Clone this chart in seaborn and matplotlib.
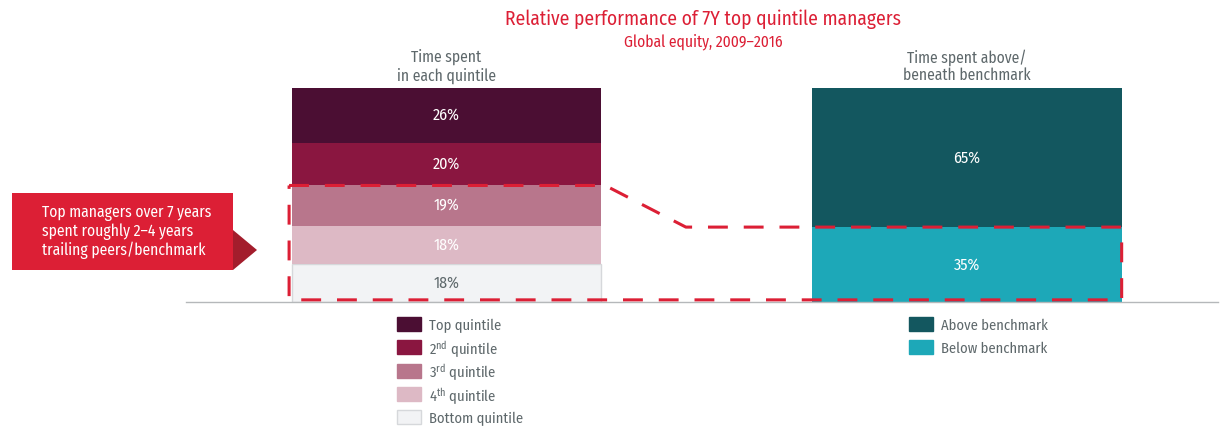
import matplotlib
matplotlib.use("Agg")
import matplotlib.pyplot as plt
import seaborn as sns
import numpy as np
from matplotlib.patches import Polygon, Rectangle
from matplotlib import font_manager

# ---------------- data ----------------
groups = ["quintile", "benchmark"]
column_headers = ["Time spent\nin each quintile", "Time spent above/\nbeneath benchmark"]
quintile_labels = ["Top quintile", r"2$^{\mathrm{nd}}$ quintile", r"3$^{\mathrm{rd}}$ quintile",
                   r"4$^{\mathrm{th}}$ quintile", "Bottom quintile"]
quintile_values = [26, 20, 19, 18, 18]
benchmark_labels = ["Above benchmark", "Below benchmark"]
benchmark_values = [65, 35]
title = "Relative performance of 7Y top quintile managers"
subtitle = "Global equity, 2009\u20132016"
callout = "Top managers over 7 years\nspent roughly 2\u20134 years\ntrailing peers/benchmark"

# ---------------- style ----------------
quintile_colors = ["#4B0E33", "#8A1640", "#B8768C", "#DDB9C5", "#F2F3F5"]
benchmark_colors = ["#13575F", "#1DA8B8"]
RED = "#DC1F35"
DARKRED = "#A31D2C"
GRAY = "#5E686B"

sns.set_theme(style="white")
names = {f.name for f in font_manager.fontManager.ttflist}
main_font = "DejaVu Sans"
for cand in ["Fira Sans Condensed", "Roboto Condensed", "PT Sans Narrow", "Archivo Narrow",
             "Asap Condensed", "Liberation Sans Narrow", "Open Sans Condensed"]:
    if cand in names:
        main_font = cand
        break
plt.rcParams["font.family"] = [main_font, "DejaVu Sans"]
plt.rcParams["mathtext.fontset"] = "custom"
plt.rcParams["mathtext.rm"] = main_font
plt.rcParams["mathtext.it"] = main_font
plt.rcParams["mathtext.bf"] = main_font
FS = 10.5

fig = plt.figure(figsize=(12.2, 4.26), dpi=100)
fig.patch.set_facecolor("white")
W_PX, H_PX = 1220, 426
ax = fig.add_axes([186 / W_PX, 124 / H_PX, 1032 / W_PX, 214 / H_PX])
BAR_W = 0.594


def fx(x):
    return x / W_PX


def fy(y):
    return 1 - y / H_PX


def stack(group, values, colors, scale):
    bottom = 0.0
    idx = groups.index(group)
    for v, c in reversed(list(zip(values, colors))):
        h = v * scale
        light = c == "#F2F3F5"
        sns.barplot(x=[group], y=[h], order=groups, bottom=bottom, color=c,
                    width=BAR_W, saturation=1, errorbar=None,
                    edgecolor="#D6D8DB" if light else c,
                    linewidth=1.0 if light else 0, ax=ax)
        ax.text(idx, bottom + h / 2, f"{v}%", ha="center", va="center",
                fontsize=11.5, color=GRAY if light else "white")
        bottom += h


q_scale = 100.0 / sum(quintile_values)
stack("quintile", quintile_values, quintile_colors, q_scale)
stack("benchmark", benchmark_values, benchmark_colors, 1.0)

ax.set_xlim(-0.5, 1.482)
ax.set_ylim(0, 100)
ax.set_xticks([])
ax.set_yticks([])
ax.set_xlabel("")
ax.set_ylabel("")
for s in ["top", "left", "right"]:
    ax.spines[s].set_visible(False)
ax.spines["bottom"].set_color("#B5B8BA")
ax.spines["bottom"].set_linewidth(1.0)

# headers
for i, h in enumerate(column_headers):
    ax.text(i, 102.0, h, ha="center", va="bottom", fontsize=11.2, color=GRAY,
            linespacing=1.15)

# dashed highlight
y_q = sum(quintile_values[2:]) * q_scale
y_b = benchmark_values[1]
xl = -BAR_W / 2 - 0.005
xs = [xl, BAR_W / 2 + 0.008, 0.46, 1 + BAR_W / 2, 1 + BAR_W / 2, xl, xl]
ys = [y_q, y_q, y_b, y_b, 1.0, 1.0, y_q]
ax.plot(xs, ys, color=RED, lw=2.2, ls=(0, (6.5, 5.2)), clip_on=False,
        dash_capstyle="butt", zorder=5)

# titles
fig.text(fx(703), fy(19), title, ha="center", va="center", fontsize=14, color=RED)
fig.text(fx(703), fy(42), subtitle, ha="center", va="center", fontsize=11.2, color=RED)


# legends (drawn as swatch + label rows)
def legend(x, labels, colors, y0=324, dy=23.25):
    for i, (lab, c) in enumerate(zip(labels, colors)):
        yc = y0 + i * dy
        light = c == "#F2F3F5"
        fig.patches.append(Rectangle((fx(x), fy(yc + 7)), 24 / W_PX, 14 / H_PX,
                                     transform=fig.transFigure, facecolor=c,
                                     edgecolor="#D6D8DB" if light else c, lw=1))
        fig.text(fx(x + 32), fy(yc), lab, ha="left", va="center_baseline",
                 fontsize=FS, color=GRAY)


legend(397, quintile_labels, quintile_colors)
legend(909, benchmark_labels, benchmark_colors)

# callout
fig.patches.append(Rectangle((fx(12), fy(270)), 221 / W_PX, 77 / H_PX,
                             transform=fig.transFigure, facecolor=RED, edgecolor="none"))
tri = [(233, 230), (257, 250), (233, 270)]
fig.patches.append(Polygon([(fx(x), fy(y)) for x, y in tri], closed=True,
                           transform=fig.transFigure, facecolor=DARKRED, edgecolor="none"))
fig.text(fx(42), fy(232), callout, ha="left", va="center",
         fontsize=11.2, color="white", linespacing=1.15)

fig.savefig("out.png", dpi=100, facecolor="white")
